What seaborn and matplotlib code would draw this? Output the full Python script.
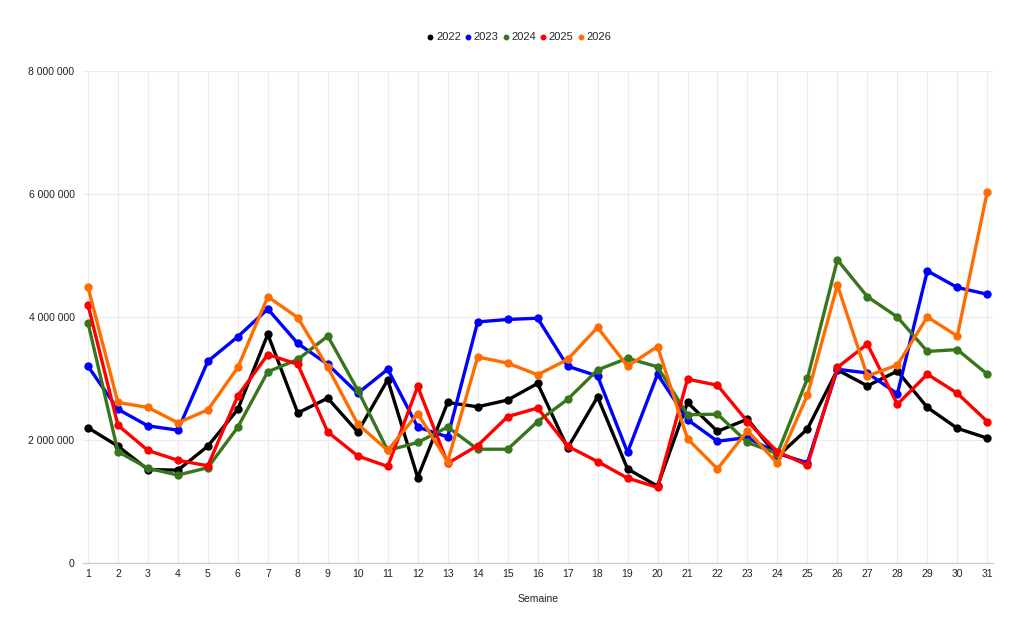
import matplotlib
matplotlib.use('Agg')
from matplotlib import pyplot as plt
from matplotlib.lines import Line2D
from matplotlib.ticker import FuncFormatter
import pandas as pd
import seaborn as sns


weeks = list(range(1, 32))

v2022 = [2.20, 1.90, 1.52, 1.51, 1.90, 2.50, 3.72, 2.44, 2.68, 2.13,
         2.98, 1.39, 2.61, 2.54, 2.65, 2.92, 1.87, 2.70, 1.53, 1.25,
         2.61, 2.14, 2.34, 1.73, 2.18, 3.14, 2.88, 3.12, 2.53, 2.19, 2.03]
v2023 = [3.20, 2.50, 2.23, 2.16, 3.28, 3.68, 4.13, 3.57, 3.23, 2.76,
         3.15, 2.21, 2.05, 3.92, 3.96, 3.98, 3.20, 3.04, 1.80, 3.07,
         2.33, 1.98, 2.04, 1.78, 1.63, 3.15, 3.09, 2.75, 4.75, 4.48, 4.37]
v2024 = [3.91, 1.81, 1.54, 1.43, 1.55, 2.21, 3.11, 3.31, 3.69, 2.81,
         1.83, 1.96, 2.21, 1.85, 1.85, 2.30, 2.66, 3.14, 3.33, 3.19,
         2.41, 2.42, 1.96, 1.78, 3.00, 4.93, 4.33, 4.00, 3.44, 3.47, 3.07]
v2025 = [4.20, 2.24, 1.83, 1.67, 1.58, 2.72, 3.39, 3.23, 2.13, 1.74,
         1.57, 2.87, 1.62, 1.91, 2.38, 2.52, 1.90, 1.65, 1.38, 1.23,
         2.99, 2.89, 2.30, 1.81, 1.59, 3.18, 3.56, 2.58, 3.07, 2.76, 2.30]
v2026 = [4.49, 2.61, 2.53, 2.28, 2.49, 3.18, 4.33, 3.99, 3.18, 2.26,
         1.83, 2.43, 1.65, 3.35, 3.25, 3.06, 3.31, 3.83, 3.20, 3.52,
         2.02, 1.53, 2.15, 1.62, 2.73, 4.52, 3.04, 3.22, 4.00, 3.69, 6.04]

years = ['2022', '2023', '2024', '2025', '2026']
colors = {'2022': '#000000', '2023': '#0000ff', '2024': '#38761d',
          '2025': '#ff0000', '2026': '#ff6d01'}

series = {'2022': v2022, '2023': v2023, '2024': v2024, '2025': v2025, '2026': v2026}

rows = []
for y in years:
	for w, v in zip(weeks, series[y]):
		rows.append({'Semaine': w, 'Valeur': v * 1e6, 'Annee': y})
df = pd.DataFrame(rows)

sns.set_style('white')
plt.rcParams['font.family'] = ['Liberation Sans', 'DejaVu Sans']

fig = plt.figure(figsize=(10.24, 6.34), dpi=100)
ax = fig.add_axes([0.081, 0.112, 0.889, 0.776])

sns.lineplot(data=df, x='Semaine', y='Valeur', hue='Annee', hue_order=years,
             palette=colors, marker='o', markersize=6, markeredgewidth=0,
             linewidth=2.4, legend=False, ax=ax)

ax.set_xlim(0.833, 31.2)
ax.set_ylim(0, 8e6)
ax.set_xticks(weeks)
ax.set_yticks([0, 2e6, 4e6, 6e6, 8e6])
ax.yaxis.set_major_formatter(FuncFormatter(lambda v, p: '{:,}'.format(int(v)).replace(',', ' ')))
ax.tick_params(axis='both', labelsize=7.5, length=0, colors='#222222')
ax.tick_params(axis='y', pad=6)
ax.tick_params(axis='x', pad=4)

ax.grid(True, color='#ebebeb', linewidth=0.8)
ax.set_axisbelow(True)
for s in ['top', 'right', 'left']:
	ax.spines[s].set_visible(False)
ax.spines['bottom'].set_color('#cccccc')
ax.spines['bottom'].set_linewidth(1)

ax.set_xlabel('Semaine', fontsize=7.5, color='#222222', labelpad=11)
ax.set_ylabel('')

handles = [Line2D([], [], linestyle='none', marker='o', markersize=3.2,
                  color=colors[y]) for y in years]
fig.legend(handles, years, loc='center', bbox_to_anchor=(0.507, 0.941),
           ncol=5, frameon=False, fontsize=8, handletextpad=0.2,
           columnspacing=0.35, handlelength=0.6)

plt.savefig('out.png', dpi=100)
